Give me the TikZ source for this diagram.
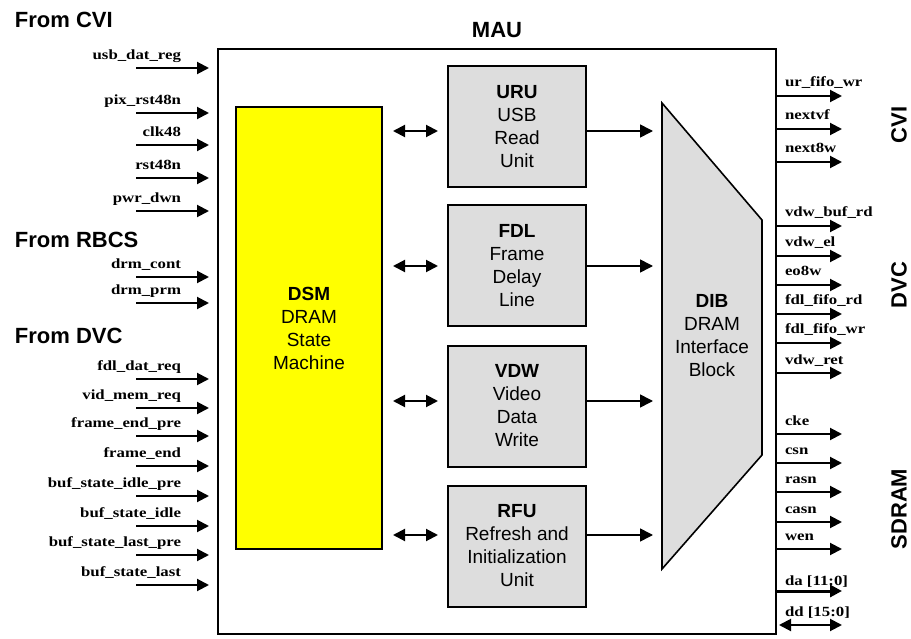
\documentclass[tikz,border=0pt]{standalone}
\usepackage{fontspec}
\setmainfont{Liberation Sans}
\newfontfamily\sigfont[FakeStretch=1.2]{Liberation Serif}
\usetikzlibrary{arrows.meta, calc}
\definecolor{cyel}{HTML}{FFFF00}
\definecolor{cgrey}{HTML}{DDDDDD}
\tikzset{
  every picture/.style={line width=2pt},
  unitbox/.style={draw, fill=cgrey, align=center, inner sep=0pt, minimum width=138pt, minimum height=121pt, font=\fontsize{19}{23}\selectfont},
  sig/.style={font=\sigfont\bfseries\fontsize{14}{16}\selectfont, inner sep=0pt},
  heading/.style={font=\fontsize{22}{26}\selectfont\bfseries, inner sep=0pt},
  sigarrow/.style={-{Triangle[length=12pt, width=12pt]}, line width=2pt},
  busarrow/.style={{Triangle[length=12pt, width=12pt]}-{Triangle[length=12pt, width=12pt]}, line width=2pt},
  flow/.style={-{Triangle[length=13pt, width=13pt]}, line width=1.6pt},
}

\begin{document}
\begin{tikzpicture}[x=1pt, y=-1pt,
  dsmbox/.style={draw, fill=cyel, align=center, inner sep=0pt, minimum width=146pt, minimum height=442pt, font=\fontsize{19}{23}\selectfont},
  dibtext/.style={align=center, inner sep=0pt, font=\fontsize{19}{23}\selectfont}]
  \useasboundingbox (0,0) rectangle (911,639);
  \node[draw, inner sep=0pt, minimum width=558pt, minimum height=585pt] (mau) at (497,341.5) {};
  \node[heading, anchor=base] (maut) at (497,38) {MAU};
  \node[heading, anchor=base west] (fcvi) at (14,28) {From CVI};
  \node[heading, anchor=base west] (frbcs) at (14,248) {From RBCS};
  \node[heading, anchor=base west] (fdvc) at (14,343) {From DVC};
  \node[heading, rotate=90] (cvi) at (899,125) {CVI};
  \node[heading, rotate=90] (dvc) at (899,285) {DVC};
  \node[heading, rotate=90] (sdram) at (899,509) {SDRAM};
  \node[dsmbox] (dsm) at (309,328) {\textbf{DSM}\\DRAM\\State\\Machine};
  \node[unitbox] (uru) at (517,127) {\textbf{URU}\\USB\\Read\\Unit};
  \node[unitbox] (fdl) at (517,266) {\textbf{FDL}\\Frame\\Delay\\Line};
  \node[unitbox] (vdw) at (517,406) {\textbf{VDW}\\Video\\Data\\Write};
  \node[unitbox] (rfu) at (517,546) {\textbf{RFU}\\Refresh and\\Initialization\\Unit};
  \coordinate (dibnw) at (662,103);
  \coordinate (dibne) at (762,220);
  \coordinate (dibse) at (762,455);
  \coordinate (dibsw) at (662,569);
  \draw[fill=cgrey, line width=1.6pt] (dibnw) -- (dibne) -- (dibse) -- (dibsw) -- cycle;
  \node[dibtext] (dib) at (712,336) {\textbf{DIB}\\DRAM\\Interface\\Block};
  \foreach \b/\s in {uru/4, fdl/0, vdw/-5, rfu/-11} {
    \draw[busarrow] ($(dsm.east |- \b.west)+(10,\s)$) -- ($(\b.west)+(-9,\s)$);
    \draw[flow] ($(\b.east)+(0,\s)$) -- ($(\b.east -| dibnw)+(-9,\s)$);
  }
  \foreach \t/\y [count=\i] in {usb\_dat\_reg/68, pix\_rst48n/113, clk48/145, rst48n/178, pwr\_dwn/211,
      drm\_cont/277, drm\_prm/303, fdl\_dat\_req/379, vid\_mem\_req/408, frame\_end\_pre/436, frame\_end/466,
      buf\_state\_idle\_pre/496, buf\_state\_idle/526, buf\_state\_last\_pre/555, buf\_state\_last/585} {
    \coordinate (in\i) at (136,\y);
    \node[sig, anchor=base east] (inl\i) at (182,\y-8.5) {\t};
    \draw[sigarrow] (in\i) -- ($(in\i -| mau.west)+(-8,0)$);
  }
  \foreach \t/\y [count=\i] in {ur\_fifo\_wr/96, nextvf/129, next8w/162, vdw\_buf\_rd/226, vdw\_el/256,
      eo8w/285, fdl\_fifo\_rd/314, fdl\_fifo\_wr/343, vdw\_ret/373, cke/434, csn/463, rasn/492, casn/522, wen/549} {
    \coordinate (out\i) at (842,\y);
    \node[sig, anchor=base west] (outl\i) at (784,\y-9) {\t};
    \draw[sigarrow] (mau.east |- out\i) -- (out\i);
  }
  \coordinate (da) at (842,591);
  \node[sig, anchor=base west] (dal) at (784,585) {da [11:0]};
  \draw[sigarrow, line width=3pt] (mau.east |- da) -- (da);
  \coordinate (dd) at (842,625);
  \node[sig, anchor=base west] (ddl) at (784,616) {dd [15:0]};
  \draw[busarrow] ($(mau.east |- dd)+(2,0)$) -- (dd);
\end{tikzpicture}
\end{document}
